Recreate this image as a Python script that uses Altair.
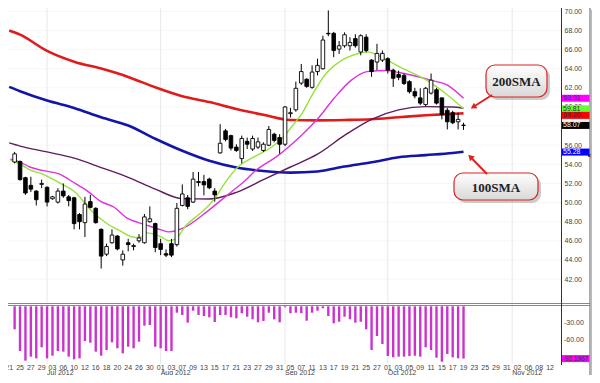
import altair as alt
import pandas as pd

# ---------------- data ----------------
day_idx = list(range(-1, 83))  # trading-day index, 0 = 25 Jun 2012
opens = [54.24, 54.3, 52.6, 51.8, 51.2, 51.9, 51.6, 50.4, 50.05, 51.2, 50.6, 50.5, 48.75, 47.9, 50.1, 49.4,
         47.2, 44.6, 45.8, 46.5, 44.0, 45.8, 45.4, 46.0, 45.8, 48.0, 47.8, 45.7, 44.65, 45.7, 45.6, 49.7,
         50.5, 50.05, 52.2, 52.2, 52.45, 51.2, 55.2, 57.5, 57.0, 55.8, 54.6, 56.4, 55.6, 55.8, 55.45, 56.0,
         57.15, 56.8, 56.1, 59.3, 59.7, 62.5, 62.9, 62.05, 63.7, 64.0, 67.7, 67.7, 66.05, 66.4, 66.4, 67.15,
         65.75, 67.3, 64.9, 64.7, 64.9, 65.05, 63.85, 63.4, 63.3, 62.65, 61.6, 60.95, 60.25, 61.45, 61.8,
         60.95, 59.65, 59.4, 58.45, 58.1]
highs = [55.3, 54.4, 52.7, 52.7, 51.3, 52.4, 51.7, 50.7, 51.5, 52.0, 50.8, 50.6, 48.9, 50.6, 50.8, 49.5,
         47.3, 45.7, 47.2, 46.6, 45.0, 46.2, 45.7, 46.7, 48.8, 49.6, 47.9, 46.2, 45.1, 46.2, 49.95, 51.9,
         50.8, 53.2, 53.2, 52.9, 52.6, 51.5, 58.2, 57.7, 57.1, 56.1, 57.0, 56.8, 57.0, 56.8, 56.3, 58.0,
         57.3, 57.15, 60.1, 59.9, 62.65, 64.5, 63.0, 64.35, 65.05, 67.45, 70.1, 67.85, 66.9, 67.8, 67.3,
         67.6, 67.6, 67.6, 65.0, 66.6, 65.9, 65.2, 64.0, 63.8, 63.5, 62.8, 62.0, 61.95, 62.1, 63.5, 62.0,
         61.0, 59.9, 59.6, 59.4, 58.35]
lows = [54.1, 52.3, 50.8, 51.1, 49.7, 51.5, 49.6, 50.3, 49.9, 50.5, 49.6, 47.2, 47.2, 46.4, 49.4, 47.8,
        43.1, 44.4, 45.7, 45.0, 43.4, 44.9, 45.0, 45.8, 45.7, 47.9, 44.8, 44.5, 44.3, 44.3, 45.4, 49.6,
        49.3, 49.95, 51.7, 50.75, 51.4, 50.1, 55.1, 56.4, 55.45, 55.3, 54.1, 55.6, 55.4, 55.6, 55.3, 55.9,
        56.3, 55.1, 55.9, 58.9, 59.5, 62.3, 62.0, 61.9, 63.3, 63.9, 67.4, 65.2, 65.55, 66.2, 65.9, 66.2,
        65.4, 65.7, 63.15, 63.85, 64.7, 63.5, 62.1, 62.8, 62.3, 61.4, 60.9, 60.2, 60.1, 61.3, 60.25,
        58.7, 57.65, 58.2, 57.65, 57.6]
closes = [55.09, 52.4, 51.0, 51.4, 50.3, 52.0, 50.05, 50.6, 51.2, 50.7, 50.2, 47.8, 48.0, 49.85, 49.5, 47.9,
          44.4, 45.4, 46.6, 45.15, 44.6, 45.6, 45.5, 46.3, 48.5, 48.3, 45.3, 45.1, 44.5, 44.5, 49.4, 50.9,
          49.6, 52.45, 52.1, 51.85, 51.55, 50.8, 56.2, 56.6, 55.7, 55.45, 56.7, 56.1, 56.7, 56.35, 56.1,
          57.65, 56.5, 56.1, 60.0, 59.4, 61.95, 63.7, 62.15, 63.65, 64.35, 67.0, 67.65, 65.9, 66.4, 67.55,
          66.75, 66.4, 67.45, 65.9, 63.7, 65.6, 65.6, 63.85, 63.0, 63.1, 62.45, 61.6, 61.15, 60.4, 61.95,
          62.8, 60.4, 59.2, 58.45, 58.35, 58.7, 58.07]
williams_r = [-40.6, -78.8, -95.9, -88.8, -91.8, -72.3, -91.8, -87.1, -78.8, -80.0, -88.8, -93.5, -91.8,
              -61.2, -64.2, -80.0, -87.1, -77.1, -63.5, -74.1, -82.9, -71.3, -74.1, -62.4, -34.2, -33.0,
              -71.3, -74.1, -78.8, -78.8, -11.3, -15.3, -28.9, -7.8, -15.3, -17.1, -19.4, -27.7, -15.3,
              -15.3, -19.4, -21.2, -12.3, -18.3, -22.9, -28.2, -25.9, -11.3, -22.9, -28.2, -1.8, -12.3,
              -11.3, -12.3, -25.4, -11.3, -7.8, -3.5, -17.1, -30.0, -27.2, -18.3, -22.9, -28.9, -27.2,
              -40.6, -77.1, -52.4, -66.5, -87.7, -90.0, -88.8, -88.8, -87.7, -87.1, -88.8, -72.3, -77.1,
              -90.6, -97.7, -84.1, -90.0, -91.7, -92.2]

ma_idx = [-2, 0, 5, 10, 15, 20, 25, 30, 35, 40, 45, 50, 55, 60, 65, 70, 75, 80, 82]
sma200 = [67.99, 67.56, 65.86, 64.73, 64.01, 63.14, 62.06, 61.13, 60.51, 59.79, 59.18, 58.63, 58.60,
          58.64, 58.72, 58.93, 59.13, 59.28, 59.33]
sma100 = [62.10, 61.65, 60.67, 59.90, 58.92, 58.06, 56.68, 55.42, 54.37, 53.66, 53.30, 53.13, 53.25,
          53.77, 54.21, 54.74, 54.96, 55.19, 55.31]
sma50 = [56.24, 55.91, 55.30, 54.65, 53.66, 52.64, 51.41, 50.41, 50.37, 51.07, 52.39, 53.72, 55.06,
         57.02, 58.71, 59.69, 60.03, 60.00, 59.87]
sma20_idx = [-1.8, 0, 1.8, 4.1, 7.2, 10.25, 12.6, 14.9, 17.4, 19.8, 21.6, 23.9, 26.1, 27.5, 30.6, 34.2,
             36.9, 39.4, 41.4, 43.7, 47.3, 52.2, 55.2, 58.1, 61.2, 64.2, 67.8, 70.1, 76.1, 79.1, 82]
sma20 = [54.55, 54.24, 53.72, 53.36, 53.0, 51.98, 51.15, 50.12, 49.51, 48.37, 47.96, 47.55, 47.14, 46.93,
         47.45, 48.89, 50.12, 51.26, 52.18, 53.42, 54.75, 57.12, 58.87, 60.93, 62.78, 63.70, 63.81, 63.60,
         62.78, 62.26, 60.91]
sma10_idx = [-1.8, 0, 1.8, 4.1, 7.2, 10.25, 13.1, 16.2, 18.5, 20.7, 22.1, 23.4, 24.6, 26.1, 27.5, 28.8,
             30.6, 32.9, 35.1, 36.5, 37.8, 40.1, 43.2, 46.2, 48.6, 50.4, 52.2, 53.9, 56.3, 59.4, 62.4, 64.2,
             67.1, 70.1, 76.1, 79.1, 82]
sma10 = [54.44, 54.03, 53.42, 53.0, 52.08, 51.05, 49.2, 47.76, 47.04, 46.42, 46.32, 46.83, 46.73, 46.42,
         46.01, 46.21, 47.55, 48.68, 49.82, 50.84, 51.98, 53.62, 54.75, 55.68, 56.81, 58.05, 59.38, 61.13,
         63.29, 64.84, 65.56, 65.76, 65.14, 64.22, 62.47, 61.23, 59.81]

tick_idx = list(range(-2, 99, 2))
tick_lab = ["21", "25", "27", "29", "03", "06", "10", "12", "16", "18", "20", "24", "26", "30", "01", "03",
            "07", "09", "13", "15", "17", "21", "23", "27", "29", "31", "05", "07", "11", "13", "17", "19",
            "21", "25", "27", "01", "03", "05", "09", "11", "15", "17", "19", "23", "25", "29", "31", "02",
            "06", "08", "12"]
month_idx = [5, 26, 49, 68, 91]
month_lab = ["Jul 2012", "Aug 2012", "Sep 2012", "Oct 2012", "Nov 2012"]
price_ticks = [42, 44, 46, 48, 50, 52, 54, 56, 58, 60, 62, 64, 66, 68, 70]
wr_ticks = [-30, -60]
wr_tick_lab = ["-30.00", "-60.00"]

tag_values = [60.91, 59.81, 59.20, 58.07, 55.28]
tag_pos = [60.91, 59.81, 59.12, 58.07, 55.28]
tag_fill = ["#ff00ff", "#66ff33", "#ff0000", "#000000", "#0000ff"]
tag_text = ["#333333", "#333333", "#333333", "#ffffff", "#ffffff"]
wr_tag_value = -92.1967

# ---------------- geometry ----------------
W, H = 553, 356
PRICE_RANGE = [294, 0]
WR_RANGE = [355, 298.3]
FONT = "Liberation Sans"

xs = alt.Scale(domain=[-1.3, 99.1], nice=False, zero=False)
ps = alt.Scale(domain=[39.6, 70.35], range=PRICE_RANGE, nice=False, zero=False)
ws = alt.Scale(domain=[-100, 0], range=WR_RANGE, nice=False, zero=False)

X = lambda f: alt.X(f, type="quantitative", scale=xs, axis=None)

cand = pd.DataFrame({"i": day_idx, "o": opens, "h": highs, "l": lows, "c": closes})
cand["dir"] = ["up" if c >= o else "down" for o, c in zip(opens, closes)]
wr = pd.DataFrame({"i": day_idx, "wr": williams_r, "zero": 0.0})
one = pd.DataFrame({"a": [0]})

layers = []

# background
layers.append(alt.Chart(one).mark_rect(fill="white").encode(
    x=alt.value(0), x2=alt.value(W), y=alt.value(0), y2=alt.value(H)))

# price axis with horizontal grid
grid_df = pd.DataFrame({"v": price_ticks})
layers.append(alt.Chart(grid_df).mark_rule(color="#efefef", strokeWidth=1, strokeDash=[1, 1]).encode(
    x=alt.value(0), x2=alt.value(W),
    y=alt.Y("v:Q", scale=ps, axis=alt.Axis(orient="right", values=price_ticks, format=".2f", ticks=False,
                                             domain=False, grid=False, labelFont=FONT, labelFontSize=7,
                                             labelColor="#444444", labelPadding=3))))

# month gridlines
mg = pd.DataFrame({"i": month_idx})
layers.append(alt.Chart(mg).mark_rule(color="#e8e8e8", strokeWidth=1).encode(
    x=X("i"), y=alt.value(0), y2=alt.value(H)))

# moving averages
def ma_layer(idx, vals, color, sw):
    d = pd.DataFrame({"i": idx, "v": vals})
    return alt.Chart(d).mark_line(color=color, strokeWidth=sw, clip=True, interpolate="monotone").encode(
        x=X("i"), y=alt.Y("v:Q", scale=ps, axis=None))

layers.append(ma_layer(ma_idx, sma200, "#e01b1b", 2.6))
layers.append(ma_layer(ma_idx, sma100, "#1414a8", 2.6))
layers.append(ma_layer(ma_idx, sma50, "#5e1d5e", 1.4))
layers.append(ma_layer(sma20_idx, sma20, "#dd33dd", 1.4))
layers.append(ma_layer(sma10_idx, sma10, "#99e23c", 1.4))

# candles
layers.append(alt.Chart(cand).mark_rule(color="black", strokeWidth=1, clip=True).encode(
    x=X("i"), y=alt.Y("l:Q", scale=ps, axis=None), y2="h:Q"))
layers.append(alt.Chart(cand).mark_bar(width=3.6, stroke="black", strokeWidth=0.9, clip=True).encode(
    x=X("i"), y=alt.Y("o:Q", scale=ps, axis=None), y2="c:Q",
    fill=alt.Fill("dir:N", scale=alt.Scale(domain=["up", "down"], range=["white", "black"]), legend=None)))

# Williams %R panel
layers.append(alt.Chart(wr).mark_rule(color="#cc33cc", strokeWidth=2.4).encode(
    x=X("i"), y=alt.Y("wr:Q", scale=ws, axis=None), y2="zero:Q"))
wl = pd.DataFrame({"v": wr_ticks, "t": wr_tick_lab})
layers.append(alt.Chart(wl).mark_text(align="left", baseline="middle", font=FONT, fontSize=7,
                                      color="#444444").encode(
    x=alt.value(W + 3), y=alt.Y("v:Q", scale=ws, axis=None), text="t:N"))

# frames
layers.append(alt.Chart(one).mark_rule(color="#888888", strokeWidth=1).encode(
    x=alt.value(0), x2=alt.value(W + 29), y=alt.value(295.5)))
layers.append(alt.Chart(one).mark_rule(color="#888888", strokeWidth=1).encode(
    x=alt.value(0), x2=alt.value(W + 29), y=alt.value(297.5)))
layers.append(alt.Chart(one).mark_rule(color="#333333", strokeWidth=1).encode(
    x=alt.value(W + 0.5), y=alt.value(0), y2=alt.value(H + 1)))
layers.append(alt.Chart(one).mark_rule(color="#777777", strokeWidth=1.2).encode(
    x=alt.value(W + 29), y=alt.value(0), y2=alt.value(H + 11)))
layers.append(alt.Chart(one).mark_rule(color="#bbbbbb", strokeWidth=1.6).encode(
    x=alt.value(W + 30.4), y=alt.value(2), y2=alt.value(H + 11)))

# value tags
tg = pd.DataFrame({"v": tag_pos, "t": [f"{v:.2f}" for v in tag_values], "f": tag_fill, "tc": tag_text})
layers.append(alt.Chart(tg).mark_rect(yOffset=-3.5, y2Offset=3.5).encode(
    x=alt.value(W + 1), x2=alt.value(W + 28.5), y=alt.Y("v:Q", scale=ps, axis=None), y2="v:Q",
    fill=alt.Fill("f:N", scale=None)))
layers.append(alt.Chart(tg).mark_text(align="left", baseline="middle", font=FONT, fontSize=7).encode(
    x=alt.value(W + 2), y=alt.Y("v:Q", scale=ps, axis=None), text="t:N",
    color=alt.Color("tc:N", scale=None)))
wt = pd.DataFrame({"v": [wr_tag_value], "t": [f"{wr_tag_value:.4f}"]})
layers.append(alt.Chart(wt).mark_rect(yOffset=-3.5, y2Offset=3.5, fill="#ff00ff").encode(
    x=alt.value(W + 1), x2=alt.value(W + 28.5), y=alt.Y("v:Q", scale=ws, axis=None), y2="v:Q"))
layers.append(alt.Chart(wt).mark_text(align="left", baseline="middle", font=FONT, fontSize=6.5,
                                      color="#333333").encode(
    x=alt.value(W + 1.5), y=alt.Y("v:Q", scale=ws, axis=None), text="t:N"))

# date labels
dl = pd.DataFrame({"i": tick_idx, "t": tick_lab})
layers.append(alt.Chart(dl).mark_text(baseline="middle", font=FONT, fontSize=7, color="#444444").encode(
    x=X("i"), y=alt.value(H + 3.5), text="t:N"))
ml = pd.DataFrame({"i": month_idx, "t": month_lab})
layers.append(alt.Chart(ml).mark_text(align="left", baseline="middle", font=FONT, fontSize=7,
                                      color="#444444").encode(
    x=X("i"), y=alt.value(H + 9), text="t:N"))

# callouts
red = "#e02020"
grad = alt.Gradient(gradient="linear", stops=[alt.GradientStop(color="#ffffff", offset=0),
                                              alt.GradientStop(color="#d8d8d8", offset=1)],
                    x1=0, x2=0, y1=0, y2=1)

def callout(x0, y0, x1, y1, label, ax0, ay0, ax1, ay1, ang):
    out = []
    out.append(alt.Chart(one).mark_rect(cornerRadius=9, fill="#999999", opacity=0.5).encode(
        x=alt.value(x0 + 3), x2=alt.value(x1 + 3), y=alt.value(y0 + 3), y2=alt.value(y1 + 3)))
    out.append(alt.Chart(one).mark_rect(cornerRadius=9, fill=grad, stroke=red, strokeWidth=1.2).encode(
        x=alt.value(x0), x2=alt.value(x1), y=alt.value(y0), y2=alt.value(y1)))
    out.append(alt.Chart(pd.DataFrame({"t": [label]})).mark_text(
        font="Liberation Serif", fontWeight="bold", fontSize=13, color="#222222").encode(
        x=alt.value((x0 + x1) / 2), y=alt.value((y0 + y1) / 2 + 1), text="t:N"))
    out.append(alt.Chart(one).mark_rule(color=red, strokeWidth=2).encode(
        x=alt.value(ax0), y=alt.value(ay0), x2=alt.value(ax1), y2=alt.value(ay1)))
    out.append(alt.Chart(one).mark_point(shape="triangle", filled=True, color=red, size=45, opacity=1,
                                         angle=ang).encode(x=alt.value(ax1), y=alt.value(ay1)))
    return out

layers += callout(478, 57, 539, 89, "200SMA", 484, 87, 466, 98.5, 238)
layers += callout(446, 165, 530, 192, "100SMA", 479, 166, 463, 149.5, 316)

chart = alt.layer(*layers).resolve_scale(y="independent", fill="independent", color="independent").properties(
    width=W, height=H,
    autosize=alt.AutoSizeParams(type="none"),
    padding={"left": 0, "top": 0, "right": 31, "bottom": 11},
).configure_view(stroke=None)

chart.save("out.html", embed_options={"renderer": "svg", "actions": False})
